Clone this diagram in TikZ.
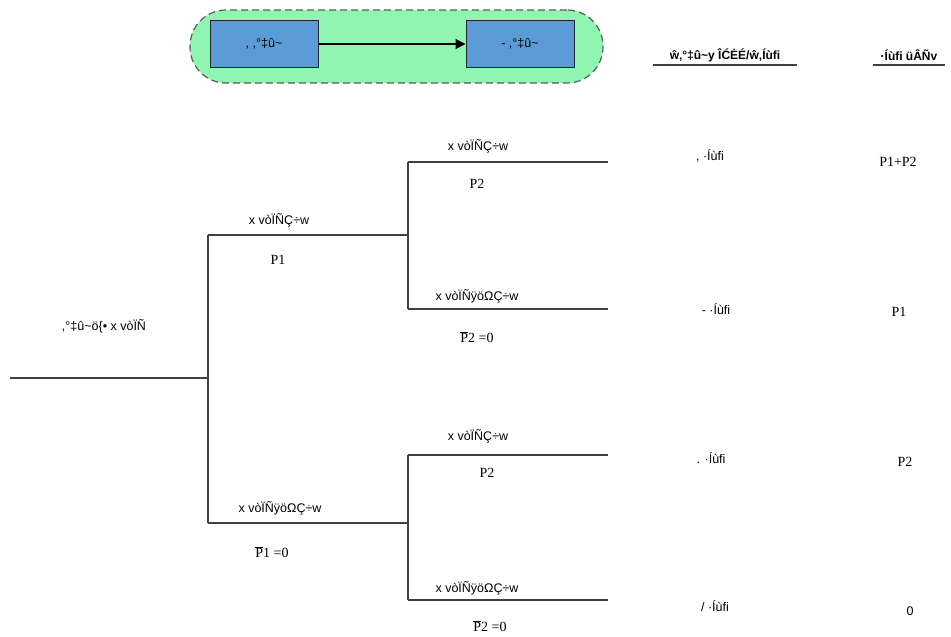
\documentclass[tikz,border=0pt]{standalone}
\usepackage{fontspec}
\setmainfont{Liberation Serif}
\newfontfamily\gsans{Liberation Sans}
\usetikzlibrary{arrows.meta}
\definecolor{greenbg}{HTML}{90F5B0}
\definecolor{bluebox}{HTML}{5B9BD5}
\definecolor{linegray}{HTML}{404040}
\begin{document}
\begin{tikzpicture}[x=1pt,y=-1pt,
  garb/.style={font=\gsans\fontsize{12.5}{14}\selectfont, inner sep=0pt},
  hdr/.style={font=\gsans\bfseries\fontsize{12}{14}\selectfont, inner sep=0pt},
  val/.style={font=\fontsize{14}{16}\selectfont, inner sep=0pt},
  blk/.style={draw=black!85, line width=1pt, fill=bluebox, minimum width=108pt, minimum height=47pt, inner sep=0pt, font=\gsans\fontsize{12.5}{14}\selectfont},
  tree/.style={draw=linegray, line width=1.3pt}]
\useasboundingbox (0,0) rectangle (951,637);
% top group
\node[draw=black!65, dash pattern=on 7pt off 4pt, line width=1.2pt, fill=greenbg, rounded corners=36pt, minimum width=413pt, minimum height=73pt] (grp) at (396.5,46.5) {};
\node[blk] (b1) at (264,44) {, ,°‡û\textasciitilde};
\node[blk] (b2) at (520,44) {- ,°‡û\textasciitilde};
\draw[line width=1.1pt, -{Triangle[length=10pt,width=10pt]}] (b1.east) -- (b2.west);
% headers
\node[hdr] (h1) at (725,55) {ŵ‚°‡û\textasciitilde y ÎĆĖÉ/ŵ‚Íùfi};
\draw[linegray, line width=1.2pt] (653,65) -- (797,65);
\node[hdr] (h2) at (909,55) {·Íùfi  üÂÑv};
\draw[linegray, line width=1.2pt] (873,65) -- (945,65);
% tree coordinates
\coordinate (r0) at (10,378);
\coordinate (r1) at (208,378);
\coordinate (a1) at (208,235);
\coordinate (a2) at (408,235);
\coordinate (c1) at (208,523);
\coordinate (c2) at (408,523);
\coordinate (u1) at (408,162);
\coordinate (u2) at (608,162);
\coordinate (v1) at (408,309);
\coordinate (v2) at (608,309);
\coordinate (w1) at (408,455);
\coordinate (w2) at (608,455);
\coordinate (z1) at (408,600);
\coordinate (z2) at (608,600);
\draw[tree] (r0) -- (r1);
\draw[tree] (a1) -- (c1);
\draw[tree] (a1) -- (a2);
\draw[tree] (c1) -- (c2);
\draw[tree] (u1) -- (v1);
\draw[tree] (u1) -- (u2);
\draw[tree] (v1) -- (v2);
\draw[tree] (w1) -- (z1);
\draw[tree] (w1) -- (w2);
\draw[tree] (z1) -- (z2);
% labels
\node[garb] (root) at (104,326) {,°‡û\textasciitilde ö\{• x vòÏÑ};
\node[garb] (l1) at (279,220) {x vòÏÑÇ÷w};
\node[val] (p1) at (278,260) {P1};
\node[garb] (l2) at (280,508) {x vòÏÑÿöΩÇ÷w};
\node[val] (p1n) at (272,552) {$\overline{\mbox{P}}$1 =0};
\node[garb] (l3) at (478,146) {x vòÏÑÇ÷w};
\node[val] (p2a) at (477,184) {P2};
\node[garb] (l4) at (477,296) {x vòÏÑÿöΩÇ÷w};
\node[val] (p2n) at (477,337) {$\overline{\mbox{P}}$2 =0};
\node[garb] (l5) at (478,436) {x vòÏÑÇ÷w};
\node[val] (p2b) at (487,473) {P2};
\node[garb] (l6) at (477,588) {x vòÏÑÿöΩÇ÷w};
\node[val] (p2m) at (490,626) {$\overline{\mbox{P}}$2 =0};
% outcomes
\node[garb] (o1) at (710,156) {,  ·Íùfi};
\node[garb] (o2) at (716,309) {-  ·Íùfi};
\node[garb] (o3) at (711,458) {.  ·Íùfi};
\node[garb] (o4) at (715,606) {/  ·Íùfi};
\node[val] (v1t) at (898,162) {P1+P2};
\node[val] (v2t) at (899,312) {P1};
\node[val] (v3t) at (905,462) {P2};
\node[garb] (v4t) at (910,611) {0};
\end{tikzpicture}
\end{document}
